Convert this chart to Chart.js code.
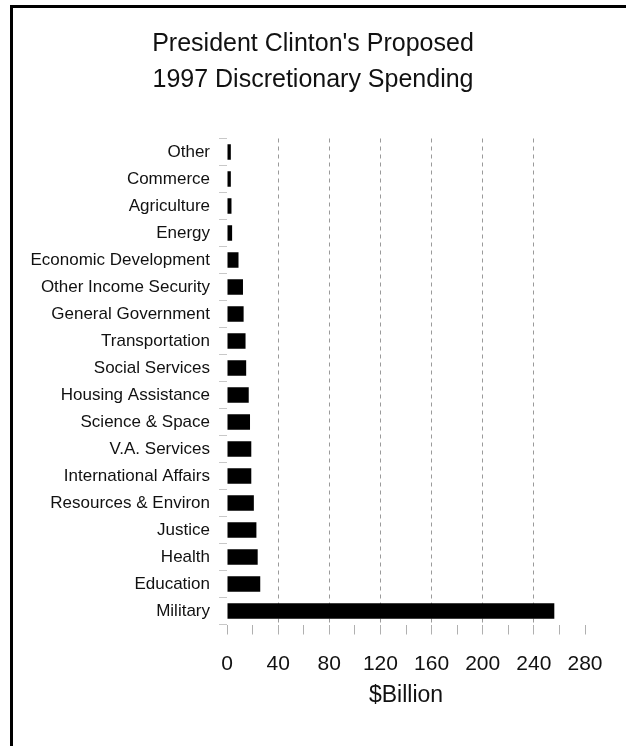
<!DOCTYPE html>
<html>
<head>
<meta charset="utf-8">
<script src="https://cdn.jsdelivr.net/npm/chart.js@4.4.1/dist/chart.umd.min.js"></script>
<style>
  body { margin: 0; background: #fff; }
  #wrap { position: relative; width: 626px; height: 746px; overflow: hidden; }
  #frame { position: absolute; left: 10px; top: 5px; width: 620px; height: 760px;
           border-top: 3px solid #000; border-left: 3px solid #000; box-sizing: border-box; }
  #myChart { position: absolute; left: 0; top: 0; }
</style>
</head>
<body>
<div id="wrap">
  <canvas id="myChart" width="626" height="746"></canvas>
  <div id="frame"></div>
</div>
<script>
// categories top to bottom, values in $billion
const categories = ['Other', 'Commerce', 'Agriculture', 'Energy', 'Economic Development',
    'Other Income Security', 'General Government', 'Transportation', 'Social Services',
    'Housing Assistance', 'Science & Space', 'V.A. Services', 'International Affairs',
    'Resources & Environ', 'Justice', 'Health', 'Education', 'Military'];
const spending = [3, 3, 3.5, 4, 9, 12.5, 13, 14.5, 15, 17, 18, 19, 19, 21, 23, 24, 26, 256];
const xLabels = [0, 40, 80, 120, 160, 200, 240, 280];
const titleLines = ["President Clinton's Proposed", '1997 Discretionary Spending'];

const fontName = "'Liberation Sans', Arial, Helvetica, sans-serif";

const data = {
    labels: categories,
    datasets: [{
        data: spending,
        backgroundColor: '#000',
        borderWidth: 0,
        barPercentage: 0.58,
        categoryPercentage: 1
    }]
};

const config = {
    type: 'bar',
    data: data,
    options: {
        indexAxis: 'y',
        responsive: false,
        animation: false,
        layout: {
            padding: { left: 0, right: 0, top: 0, bottom: 37 }
        },
        scales: {
            x: {
                type: 'linear',
                min: 0,
                max: 280,
                afterFit: (scale) => { scale.height = 84.5; }, // keeps plot bottom near y=624
                border: { display: false, dash: [4, 4] },
                grid: {
                    color: (ctx) => {
                        const v = ctx.tick ? ctx.tick.value : 0;
                        return (v > 0 && v < 280 && v % 40 === 0) ? '#9a9a9a' : 'rgba(0,0,0,0)';
                    },
                    tickColor: '#b0b0b0',
                    tickLength: 10,
                    lineWidth: 1
                },
                ticks: {
                    stepSize: 20,
                    autoSkip: false,
                    maxRotation: 0,
                    padding: 17,
                    color: '#111',
                    font: { family: fontName, size: 21 },
                    callback: (value) => xLabels.includes(value) ? String(value) : ''
                },
                title: {
                    display: true,
                    text: '$Billion',
                    color: '#111',
                    padding: 0,
                    font: { family: fontName, size: 23 }
                }
            },
            y: {
                afterFit: (scale) => { scale.width = 227; },
                border: { display: false },
                grid: {
                    offset: true,
                    drawOnChartArea: false,
                    tickLength: 8,
                    tickColor: '#c8c8c8'
                },
                ticks: {
                    padding: 9,
                    color: '#111',
                    autoSkip: false,
                    font: { family: fontName, size: 17 }
                }
            },
            // empty axis on the right, only reserves the white margin
            yRight: {
                position: 'right',
                afterFit: (scale) => { scale.width = 41; },
                border: { display: false },
                grid: { display: false },
                ticks: { display: false }
            }
        },
        plugins: {
            legend: { display: false },
            tooltip: { enabled: false },
            title: {
                display: true,
                text: titleLines,
                color: '#111',
                padding: { top: 26, bottom: 40.5 },
                font: { family: fontName, size: 25, weight: 'normal', lineHeight: '36px' }
            }
        }
    }
};

const myChart = new Chart(document.getElementById('myChart'), config);
</script>
</body>
</html>
